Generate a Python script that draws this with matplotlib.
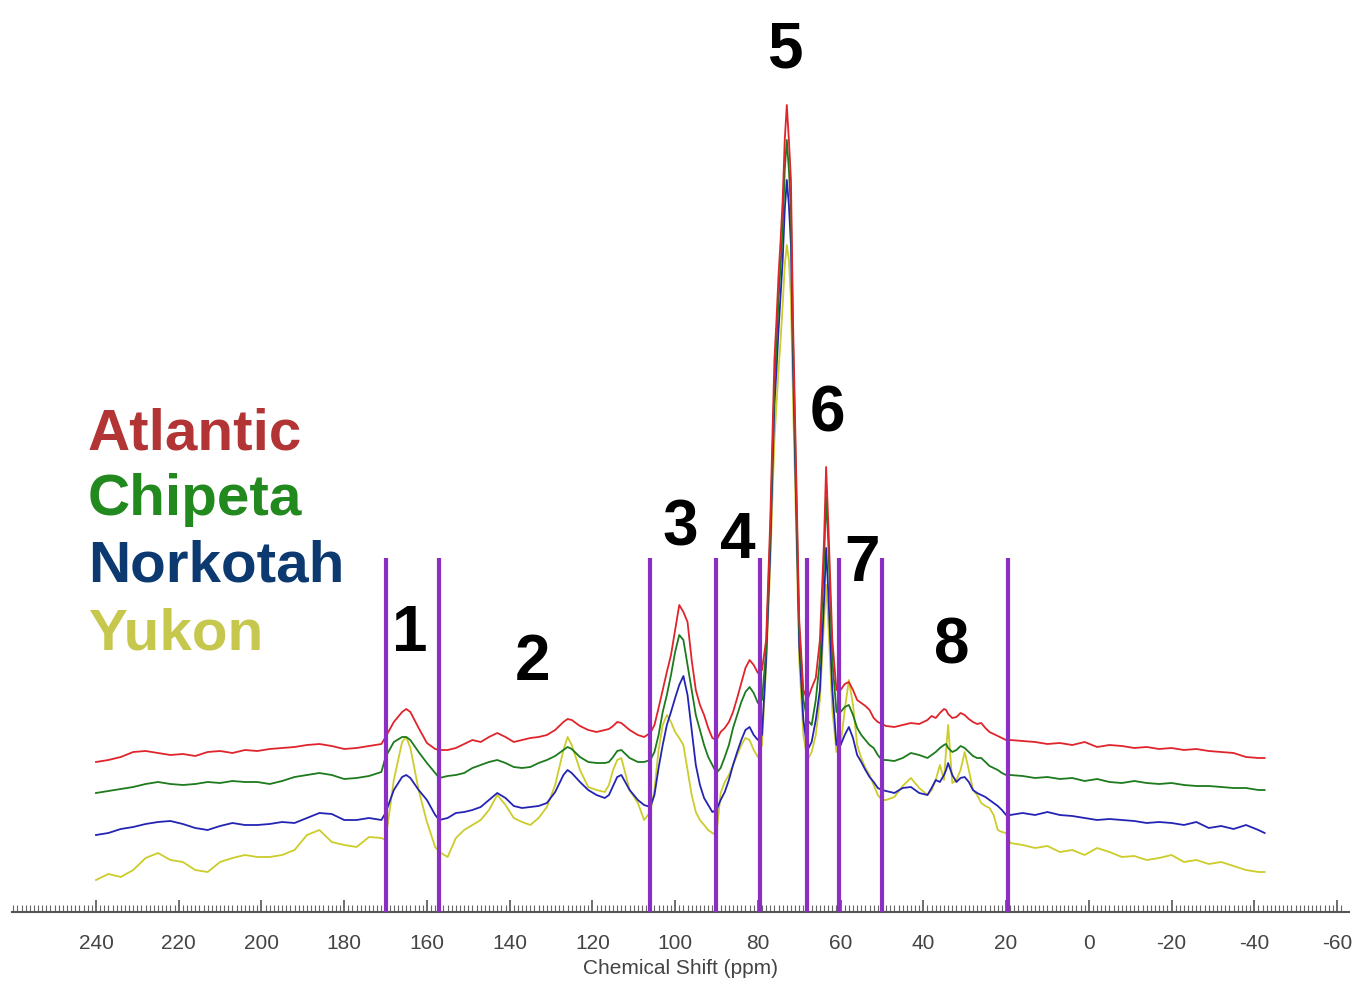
import numpy as np
import matplotlib
matplotlib.use("Agg")
import matplotlib.pyplot as plt

plt.rcParams['font.family'] = ['Liberation Sans', 'DejaVu Sans']
plt.rcParams['axes.unicode_minus'] = False

# chemical shift grid (ppm), shared by all four spectra
ppm = [240, 237, 234, 231, 228, 225, 222, 219, 216, 213, 210, 207, 204, 201, 198, 195,
       192, 189, 186, 183, 180, 177, 174, 171,
       170, 168, 166, 165, 164, 162, 160, 158, 157,
       155, 153, 151, 149, 147, 145, 143, 141, 139, 137, 135, 133, 131, 129, 127, 126,
       125, 123, 121, 119, 117, 116, 115, 114, 113, 111, 109, 107.5,
       106, 105, 104, 103, 102, 101, 100, 99, 98, 97, 96, 95, 94, 93, 92, 91, 90, 89,
       88, 87, 86, 85, 84, 83, 82, 81, 80, 79,
       78, 77, 76.5, 76, 75.5, 75, 74.5, 74, 73.5, 73, 72.5, 72, 71.5, 71, 70.5, 70, 69, 68,
       67, 66, 65, 64, 63.5, 63, 62, 61, 60, 59, 58, 57, 56, 55, 54, 53, 52, 51, 50,
       49, 47, 45, 43, 41, 39, 38, 37, 36, 35, 34.5, 34, 33, 32, 31, 30, 29, 28, 27, 26,
       25, 24, 23, 22, 21, 20,
       19, 16, 13, 10, 7, 4, 1, -2, -5, -8, -11, -14, -17, -20, -23, -26, -29, -32, -35,
       -38, -41, -42.5]

# stacked intensities as displayed (a.u.)
atlantic = [150, 152, 155, 160, 161, 159, 157, 158, 156, 160, 161, 159, 162, 161, 163, 164,
            165, 167, 168, 166, 163, 164, 166, 168,
            175, 190, 200, 203, 200, 184, 169, 163, 162,
            162, 164, 168, 172, 170, 175, 179, 175, 170, 172, 174, 175, 177, 182, 190, 193,
            192, 186, 182, 180, 182, 183, 186, 190, 189, 182, 177, 175,
            179, 187, 204, 222, 240, 257, 282, 307, 300, 290, 252, 222, 207, 197, 184, 174, 172, 180,
            184, 190, 200, 214, 229, 244, 252, 247, 239, 242,
            272, 392, 472, 552, 592, 637, 672, 712, 772, 807, 772, 732, 592, 492, 392, 292, 222, 212,
            224, 234, 272, 372, 445, 392, 272, 222, 222, 228, 230, 222, 212, 209, 206, 202, 194, 190, 188,
            186, 185, 187, 189, 188, 192, 196, 194, 199, 203, 202, 198, 194, 195, 199, 197, 193, 190, 188, 189,
            184, 180, 178, 176, 174, 172,
            172, 171, 170, 168, 169, 167, 170, 165, 167, 166, 164, 165, 163, 164, 162, 163, 161, 160, 159,
            155, 154, 154]

chipeta = [119, 121, 123, 125, 128, 130, 128, 127, 128, 130, 129, 131, 130, 130, 128, 131,
           135, 137, 139, 137, 133, 134, 136, 140,
           155, 170, 175, 175, 172, 160, 149, 139, 134,
           136, 137, 139, 144, 147, 150, 152, 149, 145, 144, 145, 149, 152, 156, 162, 165,
           163, 155, 150, 149, 149, 150, 155, 161, 162, 154, 150, 150,
           152, 160, 177, 200, 217, 237, 260, 277, 272, 247, 222, 197, 182, 167, 155, 147, 139, 144,
           155, 167, 184, 197, 210, 220, 225, 219, 209, 212,
           262, 377, 452, 527, 567, 612, 647, 682, 742, 772, 742, 702, 572, 472, 377, 282, 212, 192,
           187, 212, 252, 352, 415, 372, 252, 200, 200, 205, 207, 197, 184, 177, 172, 167, 164, 157, 152,
           152, 151, 154, 159, 157, 154, 157, 160, 164, 167, 168, 164, 160, 162, 166, 164, 160, 156, 154, 154,
           150, 146, 144, 142, 139, 137,
           137, 136, 134, 135, 133, 134, 131, 133, 130, 129, 131, 129, 128, 129, 127, 126, 126, 125, 124,
           124, 122, 122]

norkotah = [77, 79, 83, 85, 88, 90, 91, 88, 84, 82, 86, 89, 87, 87, 88, 90,
            89, 94, 99, 98, 92, 92, 94, 92,
            99, 122, 135, 137, 134, 122, 112, 97, 92,
            94, 99, 100, 102, 105, 112, 119, 114, 106, 104, 105, 106, 109, 120, 137, 142,
            139, 130, 122, 117, 114, 117, 126, 135, 137, 122, 112, 107,
            105, 117, 144, 167, 187, 200, 214, 227, 236, 217, 182, 147, 127, 114, 107, 100, 102, 112,
            120, 132, 147, 160, 172, 182, 185, 177, 172, 177,
            252, 362, 437, 507, 542, 582, 617, 652, 702, 732, 707, 667, 547, 452, 362, 267, 192, 162,
            170, 192, 222, 312, 364, 322, 222, 167, 167, 177, 185, 174, 157, 150, 142, 135, 130, 124, 122,
            121, 119, 124, 125, 119, 117, 124, 132, 130, 137, 142, 149, 137, 130, 134, 135, 130, 122, 119, 117,
            115, 112, 109, 106, 102, 97,
            97, 99, 97, 100, 97, 96, 94, 92, 93, 92, 91, 89, 90, 89, 87, 90, 84, 86, 83,
            87, 82, 79]

yukon = [32, 38, 35, 42, 54, 59, 52, 50, 42, 40, 50, 54, 57, 55, 55, 57,
         62, 77, 82, 70, 67, 65, 75, 74,
         72, 132, 170, 175, 164, 122, 90, 65, 60,
         55, 74, 82, 87, 92, 102, 117, 107, 94, 90, 87, 94, 105, 127, 162, 175,
         167, 142, 125, 122, 120, 127, 142, 152, 154, 122, 109, 92,
         100, 122, 162, 187, 197, 190, 180, 174, 167, 142, 117, 100, 92, 87, 82, 79, 77, 119,
         130, 137, 147, 157, 167, 174, 172, 162, 155, 167,
         247, 347, 412, 472, 507, 542, 572, 607, 647, 667, 652, 612, 512, 427, 342, 252, 177, 152,
         160, 177, 212, 292, 327, 292, 202, 160, 167, 202, 232, 207, 167, 154, 144, 137, 127, 117, 112,
         112, 115, 126, 134, 124, 117, 122, 132, 147, 132, 162, 187, 129, 132, 142, 160, 142, 122, 117, 109,
         106, 104, 97, 82, 80, 79,
         69, 67, 64, 66, 60, 62, 57, 64, 60, 55, 56, 52, 54, 57, 50, 52, 48, 50, 46,
         42, 40, 40]

names = ['Atlantic', 'Chipeta', 'Norkotah', 'Yukon']
line_colors = ['#e0242b', '#1d7a1d', '#2424b4', '#cccc2a']
text_colors = ['#b23434', '#22891f', '#0c3a70', '#c6c84e']

# integration region borders (ppm) and region labels
cuts = [170, 157, 106, 90, 79.5, 68, 60.5, 50, 19.5]
region_ids = ['1', '2', '3', '4', '5', '6', '7', '8']
region_x = [164.1, 134.4, 98.8, 84.8, 73.5, 63.1, 54.8, 33.1]
region_y = [278, 249, 383, 371, 861, 498, 348, 266]

fig = plt.figure(figsize=(13.52, 9.81), dpi=100)
ax = fig.add_axes([12/1352, 69/981, 1337/1352, 912/981])

series = [atlantic, chipeta, norkotah, yukon]
for vals, c in list(zip(series, line_colors))[::-1]:
    ax.plot(ppm, vals, color=c, lw=1.3, zorder=2)

ax.vlines(cuts, 0, 354, color='#8a2ec4', lw=3, zorder=3)

for lab, x, y in zip(region_ids, region_x, region_y):
    ax.text(x, y, lab, fontsize=46, fontweight='bold', ha='center', va='center', color='black')

ax.set_xlim(260.3, -62.9)
ax.set_ylim(0, 912)
for s in ['top', 'right', 'left']:
    ax.spines[s].set_visible(False)
ax.spines['bottom'].set_color('#555555')
ax.spines['bottom'].set_linewidth(1.5)
ax.set_yticks([])
ax.set_xticks(np.arange(240, -61, -20))
ax.set_xticks(np.arange(260, -62, -1), minor=True)
ax.tick_params(axis='x', which='major', direction='in', length=9, width=1.2,
               color='#555555', labelsize=15, labelcolor='#444444', pad=16)
ax.tick_params(axis='x', which='minor', direction='in', length=5, width=0.8, color='#666666')
ax.set_xlabel('Chemical Shift (ppm)', fontsize=15, color='#444444', labelpad=4)

baselines = [449, 515, 582, 650]
for name, c, b in zip(names, text_colors, baselines):
    fig.text(88/1352, 1 - b/981, name, fontsize=42, fontweight='bold', color=c,
             ha='left', va='baseline')

fig.savefig('out.png', dpi=100)
